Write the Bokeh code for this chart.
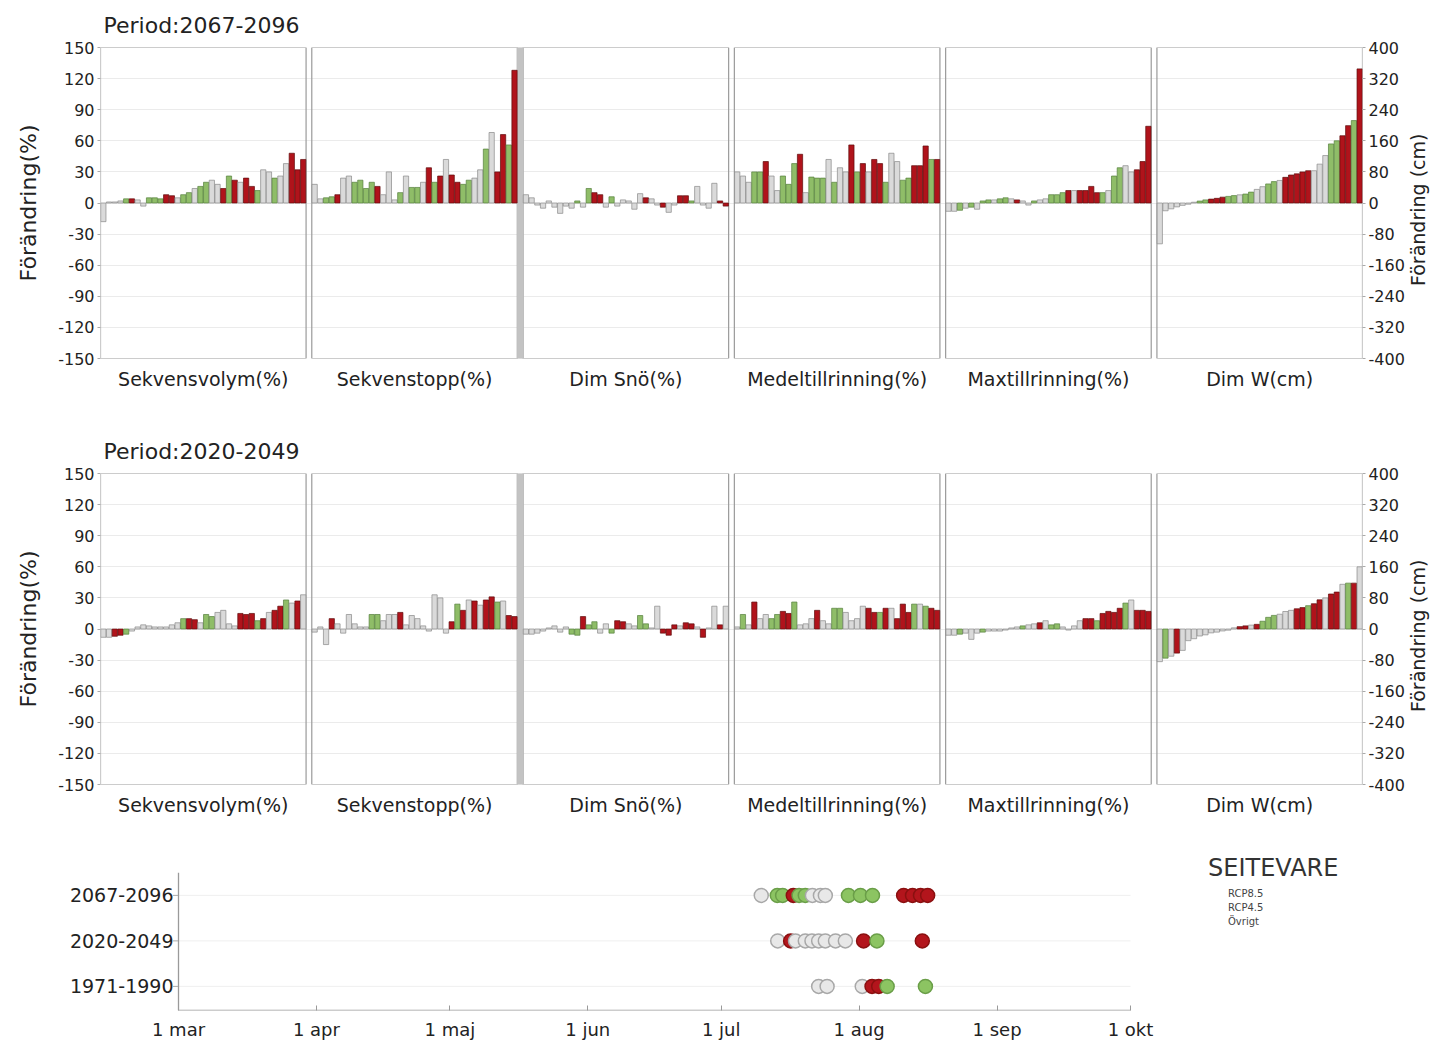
import numpy as np
from bokeh.plotting import figure
from bokeh.models import (Range1d, LinearAxis, FixedTicker, Legend, LegendItem,
                          ColumnDataSource)
from bokeh.layouts import column
from bokeh.embed import file_html
from bokeh.resources import INLINE

FONT = "DejaVu Sans"

PANEL_NAMES = ["Sekvensvolym(%)", "Sekvenstopp(%)", "Dim Snö(%)",
               "Medeltillrinning(%)", "Maxtillrinning(%)", "Dim W(cm)"]
PCT_TICKS = list(range(-150, 151, 30))
CM_TICKS = list(range(-400, 401, 80))

# ---- Period 2067-2096 (R = RCP8.5, G = RCP4.5, O = Övrigt) ----
p67_sekvensvolym = [-18, 1, 1, 2, 4, 4, 3, -3, 5, 5, 4, 8, 7, 5, 8, 10, 14, 16, 20, 22,
                    18, 14, 26, 22, 20, 24, 16, 12, 32, 30, 24, 26, 38, 48, 32, 42]
p67_sekvensvolym_grp = "OOOOGROOGGGRROGGOGGOORGRORRGOOGOORRR"
p67_sekvenstopp = [18, 4, 5, 6, 8, 24, 26, 20, 22, 14, 20, 16, 8, 30, 3, 10, 26, 15, 15, 20,
                   34, 20, 26, 42, 27, 20, 18, 22, 24, 32, 52, 68, 30, 66, 56, 128]
p67_sekvenstopp_grp = "OOGGROOGGGGROOOGOGGORGRORRGGOOGORRGR"
p67_dimsno = [8, 5, -2, -5, 2, -4, -10, -3, -5, 2, -4, 14, 10, 8, -4, 6, -3, 3, 2, -6,
              9, 5, 4, -2, -4, -9, -2, 7, 7, 2, 16, -2, -5, 19, 2, -3]
p67_dimsno_grp = "OOOOOOOOOGOGRROGOOOOOROOROORRGOOOORR"
p67_medel = [30, 26, 20, 30, 30, 40, 26, 12, 26, 18, 38, 47, 10, 25, 24, 24, 42, 20, 34, 30,
             56, 30, 38, 30, 42, 38, 20, 48, 40, 22, 24, 36, 36, 55, 42, 42]
p67_medel_grp = "OOOGGROOGGGROGGGOGOORGRORRGOOGGRRRGR"
p67_max = [-8, -8, -7, -5, -4, -6, 2, 3, 3, 4, 5, 4, 3, 2, -2, 2, 3, 4, 8, 8,
           10, 12, 12, 12, 12, 16, 10, 10, 12, 26, 34, 36, 30, 32, 40, 74]
p67_max_grp = "OOGOGOGGOGGOROOGOOGGGRORRRRGOGGOORRR"
p67_dimw = [-105, -20, -15, -10, -6, -3, 2, 5, 8, 10, 12, 15, 17, 19, 21, 23, 28, 35, 42, 49,
            55, 58, 66, 72, 75, 80, 83, 83, 100, 122, 152, 160, 173, 199, 212, 345]
p67_dimw_grp = "OOOOOOOGGRRRGGOGGOOGGORRRRROOOGGRRGR"

# ---- Period 2020-2049 ----
p20_sekvensvolym = [-8, -8, -7, -6, -5, -2, 2, 4, 3, 2, 2, 2, 4, 6, 10, 10, 9, 6, 14, 12,
                    16, 18, 5, 3, 15, 14, 15, 8, 10, 16, 18, 22, 28, 25, 27, 33]
p20_sekvensvolym_grp = "OORRGOOOOOOOOOGRROGGOOOORRRGRORRGORO"
p20_sekvenstopp = [-3, 2, -15, 10, 5, -4, 14, 5, 2, 2, 14, 14, 8, 14, 14, 16, 4, 13, 10, 3,
                   -2, 33, 30, -4, 7, 24, 18, 28, 27, 23, 28, 31, 26, 27, 13, 12]
p20_sekvenstopp_grp = "OOOROOOOOOGGOOOROOOOOOOORGRORORRGORR"
p20_dimsno = [-5, -5, -4, -2, 1, 3, -3, 2, -5, -6, 12, 4, 7, -4, 5, -4, 8, 7, 5, 3,
              13, 5, 1, 22, -4, -6, 4, 3, 6, 5, 2, -8, 1, 22, 4, 22]
p20_dimsno_grp = "OOOOOOOOGGRGGOOGRROOGGOORRRORROROORO"
p20_medel = [2, 14, 4, 26, 10, 14, 10, 14, 17, 15, 26, 4, 5, 10, 18, 8, 5, 20, 20, 16,
             8, 10, 22, 20, 16, 16, 20, 20, 10, 24, 16, 24, 24, 22, 20, 18]
p20_medel_grp = "OGOROOGGRRGOOOROOGGOOOORRGRORRRGOGRR"
p20_max = [-6, -6, -5, -4, -10, -4, -3, -2, -2, -2, -1, 1, 2, 3, 4, 5, 6, 8, 4, 5,
           2, -1, 3, 8, 10, 10, 8, 15, 17, 16, 20, 25, 28, 18, 18, 17]
p20_max_grp = "OOGOOOGOOOOOOGOOROGGOOOORRGRRRRGORRR"
p20_dimw = [-84, -75, -70, -62, -55, -30, -25, -18, -15, -10, -8, -5, -3, 3, 6, 8, 10, 12, 20, 30,
            35, 38, 45, 48, 52, 55, 60, 65, 75, 80, 90, 95, 115, 118, 118, 160]
p20_dimw_grp = "OGOROOOOOOOOOORRORGGGOOORRGRRORROGRO"

# ---- Timing dot plot (day of year) ----
PERIODS = ["1971-1990", "2020-2049", "2067-2096"]
dots_2067 = [191.0, 194.6, 195.8, 198.2, 199.5, 200.9, 202.5, 204.3, 205.4, 210.6, 213.3, 216.0,
             223.0, 225.0, 226.8, 228.4]
dots_2067_grp = "OGGRGGOOOGGGRRRR"
dots_2020 = [194.7, 197.6, 198.7, 200.9, 202.4, 203.9, 205.4, 207.7, 209.9, 214.0, 217.0, 227.2]
dots_2020_grp = "OROOOOOOORGR"
dots_1971 = [203.9, 205.8, 213.7, 215.9, 217.4, 219.3, 227.9]
dots_1971_grp = "OOORRGG"
MONTH_DOY = [60, 91, 121, 152, 182, 213, 244, 274]
MONTH_LABELS = ["1 mar", "1 apr", "1 maj", "1 jun", "1 jul", "1 aug", "1 sep", "1 okt"]

BAR_FILL = {"R": "#b0131b", "G": "#8fbd68", "O": "#dadada"}
BAR_LINE = {"R": "#5e0b0b", "G": "#55803c", "O": "#8a8a8a"}
DOT_FILL = {"R": "#b3151c", "G": "#8cc462", "O": "#e8e8e8"}
DOT_LINE = {"R": "#8a1010", "G": "#6a9e48", "O": "#a8a8a8"}
LEG_LABELS = {"R": "RCP8.5", "G": "RCP4.5", "O": "Övrigt"}

N = 36
GAP = 1
FRAME_W = 1262
FRAME_H = 311
BORDER_L = 100
BORDER_R = 88
TXT = "#222222"
AXIS_PROPS = LinearAxis.properties()
HAS_LABEL_ORIENT = "axis_label_orientation" in AXIS_PROPS
HAS_LABEL_ALIGN = "axis_label_align" in AXIS_PROPS
RIGHT_TITLE = "Förändring (cm)"


def style_text_axis(ax, size="16px", label_size="22px"):
    ax.major_label_text_font = FONT
    ax.major_label_text_font_size = size
    ax.major_label_text_color = TXT
    ax.axis_label_text_font = FONT
    ax.axis_label_text_font_style = "normal"
    ax.axis_label_text_font_size = label_size
    ax.axis_label_text_color = TXT


def bar_figure(title, series):
    total = 6 * N + 5 * GAP
    p = figure(frame_width=FRAME_W, frame_height=FRAME_H, x_range=Range1d(0, total),
               y_range=Range1d(-150, 150), output_backend="svg", toolbar_location=None,
               min_border_left=BORDER_L, min_border_right=BORDER_R, min_border_top=47,
               min_border_bottom=68, title=title)
    p.extra_y_ranges = {"cm": Range1d(-400, 400)}
    p.outline_line_color = None
    p.title.text_font = FONT
    p.title.text_font_size = "22px"
    p.title.text_font_style = "normal"
    p.title.text_color = TXT
    p.title.offset = 3
    p.title.standoff = 20

    p.xgrid.visible = False
    p.ygrid.ticker = FixedTicker(ticks=PCT_TICKS)
    p.ygrid.grid_line_color = "#ebebeb"

    lefts = [k * (N + GAP) for k in range(6)]
    rights = [l + N for l in lefts]
    p.quad(left=lefts, right=rights, bottom=-150, top=150, fill_alpha=0,
           line_color="#9a9a9a", line_width=1.2)
    p.quad(left=[rights[1]], right=[lefts[2]], bottom=-150, top=150,
           fill_color="#c3c3c3", line_color="#c3c3c3")

    for k, (vals, grp) in enumerate(series):
        xs = [lefts[k] + i + 0.5 for i in range(len(vals))]
        src = ColumnDataSource(dict(x=xs, top=vals,
                                    fill=[BAR_FILL[g] for g in grp],
                                    line=[BAR_LINE[g] for g in grp]))
        kw = dict(y_range_name="cm") if k == 5 else {}
        p.vbar(x="x", top="top", bottom=0, width=0.92, source=src,
               fill_color="fill", line_color="line", line_width=0.7, **kw)

    yax = p.yaxis[0]
    yax.ticker = FixedTicker(ticks=PCT_TICKS)
    yax.major_label_overrides = {t: str(t) for t in PCT_TICKS}
    yax.axis_label = "Förändring(%)"
    yax.axis_label_standoff = 14
    yax.axis_line_color = None
    yax.major_tick_out = 3
    yax.major_tick_in = 0
    yax.minor_tick_line_color = None
    yax.major_tick_line_color = "#aaaaaa"
    yax.major_label_standoff = 3
    style_text_axis(yax)

    # right tick axis (cm)
    rax = LinearAxis(y_range_name="cm", ticker=FixedTicker(ticks=CM_TICKS))
    rax.major_label_overrides = {t: str(t) for t in CM_TICKS}
    rax.axis_line_color = None
    rax.major_tick_out = 3
    rax.major_tick_in = 0
    rax.major_tick_line_color = "#aaaaaa"
    rax.minor_tick_line_color = None
    rax.major_label_standoff = 3
    style_text_axis(rax, "16px", "19px")
    p.add_layout(rax, "right")

    # right axis title, reading bottom-to-top like the left one
    rlab = LinearAxis(y_range_name="cm", ticker=FixedTicker(ticks=[]))
    rlab.axis_line_color = None
    rlab.major_tick_line_color = None
    rlab.minor_tick_line_color = None
    rlab.axis_label_standoff = 10
    if HAS_LABEL_ORIENT and HAS_LABEL_ALIGN:
        rlab.axis_label_orientation = np.pi / 2
        rlab.axis_label_align = "start"
        # text starts at the frame bottom; non-breaking spaces lift it to the middle
        rlab.axis_label = "\u00a0" * 12 + RIGHT_TITLE
    else:
        rlab.axis_label = RIGHT_TITLE
    style_text_axis(rlab, "16px", "19px")
    p.add_layout(rlab, "right")

    xax = p.xaxis[0]
    centers = [l + N // 2 for l in lefts]
    xax.ticker = FixedTicker(ticks=centers)
    xax.major_label_overrides = {c: n for c, n in zip(centers, PANEL_NAMES)}
    xax.axis_line_color = None
    xax.major_tick_line_color = None
    xax.minor_tick_line_color = None
    xax.major_label_standoff = 3
    style_text_axis(xax, "19px")
    return p


top = bar_figure("Period:2067-2096", [
    (p67_sekvensvolym, p67_sekvensvolym_grp), (p67_sekvenstopp, p67_sekvenstopp_grp),
    (p67_dimsno, p67_dimsno_grp), (p67_medel, p67_medel_grp),
    (p67_max, p67_max_grp), (p67_dimw, p67_dimw_grp)])
mid = bar_figure("Period:2020-2049", [
    (p20_sekvensvolym, p20_sekvensvolym_grp), (p20_sekvenstopp, p20_sekvenstopp_grp),
    (p20_dimsno, p20_dimsno_grp), (p20_medel, p20_medel_grp),
    (p20_max, p20_max_grp), (p20_dimw, p20_dimw_grp)])

# ---- dot plot: same frame as bars, date axis occupies a sub-span ----
DAY0, DAY1 = MONTH_DOY[0], MONTH_DOY[-1]
AX_LEFT_PX, AX_RIGHT_PX = 178, 1130
px_per_day = (AX_RIGHT_PX - AX_LEFT_PX) / (DAY1 - DAY0)
x_start = DAY0 - (AX_LEFT_PX - BORDER_L) / px_per_day
x_end = DAY1 + (BORDER_L + FRAME_W - AX_RIGHT_PX) / px_per_day
ROW_PX = 45.5
DOT_FRAME_H = 158
Y0 = -0.53
Y1 = Y0 + DOT_FRAME_H / ROW_PX
YTOP = 2.5

q = figure(frame_width=FRAME_W, frame_height=DOT_FRAME_H, x_range=Range1d(x_start, x_end),
           y_range=Range1d(Y0, Y1), output_backend="svg", toolbar_location=None,
           min_border_left=BORDER_L, min_border_right=BORDER_R,
           min_border_top=0, min_border_bottom=38)
q.outline_line_color = None
q.xgrid.visible = False
q.ygrid.visible = False

ypos = list(range(len(PERIODS)))
tick_x = DAY0 - 3 / px_per_day
q.segment(x0=[DAY0] * 3, x1=[DAY1] * 3, y0=ypos, y1=ypos, line_color="#efefef", line_width=1)
q.segment(x0=[DAY0, DAY0], y0=[Y0, Y0], x1=[DAY0, DAY1], y1=[YTOP, Y0],
          line_color="#9a9a9a", line_width=1.3)
q.scatter(x=[tick_x] * 3, y=ypos, marker="dash", size=5, line_color="#aaaaaa")

# period labels: the y axis sits at the frame edge, labels pushed right to the date axis
yq = q.yaxis[0]
yq.ticker = FixedTicker(ticks=ypos)
yq.major_label_overrides = {i: per for i, per in enumerate(PERIODS)}
yq.axis_line_color = None
yq.major_tick_line_color = None
yq.minor_tick_line_color = None
yq.major_tick_out = 0
yq.major_tick_in = 0
yq.major_label_standoff = -(AX_LEFT_PX - BORDER_L) + 5
style_text_axis(yq, "19px")

dx, dy, dfill, dline = [], [], [], []
for per, vals, grp in [("2067-2096", dots_2067, dots_2067_grp),
                       ("2020-2049", dots_2020, dots_2020_grp),
                       ("1971-1990", dots_1971, dots_1971_grp)]:
    for v, g in zip(vals, grp):
        dx.append(v)
        dy.append(PERIODS.index(per))
        dfill.append(DOT_FILL[g])
        dline.append(DOT_LINE[g])
q.scatter(x="x", y="y", size=14, fill_color="fill", line_color="line", line_width=1.5,
          source=ColumnDataSource(dict(x=dx, y=dy, fill=dfill, line=dline)))

xq = q.xaxis[0]
xq.ticker = FixedTicker(ticks=MONTH_DOY)
xq.major_label_overrides = {d: l for d, l in zip(MONTH_DOY, MONTH_LABELS)}
xq.axis_line_color = None
xq.major_tick_line_color = "#9a9a9a"
xq.major_tick_in = 5
xq.major_tick_out = 0
xq.minor_tick_line_color = None
xq.major_label_standoff = 8
style_text_axis(xq, "18px")

items = []
for g in "RGO":
    r = q.quad(left=[], right=[], bottom=[], top=[], fill_color=BAR_FILL[g],
               line_color=BAR_LINE[g], line_width=0.7)
    items.append(LegendItem(label=LEG_LABELS[g], renderers=[r]))
leg = Legend(items=items, title="SEITEVARE", location=(1108, 83))
leg.title_text_font = FONT
leg.title_text_font_size = "24px"
leg.title_text_font_style = "normal"
leg.title_text_color = "#333333"
leg.title_standoff = 5
leg.label_text_font = FONT
leg.label_text_font_size = "10px"
leg.label_text_color = "#444444"
leg.label_height = 12
leg.label_width = 140
leg.glyph_height = 9
leg.glyph_width = 13
leg.label_standoff = 7
leg.spacing = 2
leg.padding = 0
leg.margin = 0
leg.border_line_color = None
leg.background_fill_alpha = 0
q.add_layout(leg)

layout = column(top, mid, q, spacing=0)
open("out.html", "w").write(file_html(layout, INLINE))
